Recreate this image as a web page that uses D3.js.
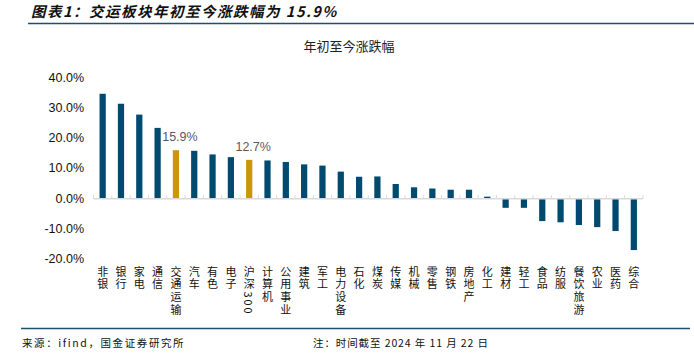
<!DOCTYPE html>
<html>
<head>
<meta charset="utf-8">
<script src="https://cdn.jsdelivr.net/npm/d3@7"></script>
<style>
  html, body { margin: 0; padding: 0; background: #fff; }
  svg { display: block; }
  .cjk { font-family: "Noto Sans CJK SC", sans-serif; }
</style>
</head>
<body>
<div id="chart"></div>
<script>
var categories = ['非银', '银行', '家电', '通信', '交通运输', '汽车', '有色', '电子', '沪深300', '计算机',
  '公用事业', '建筑', '军工', '电力设备', '石化', '煤炭', '传媒', '机械', '零售', '钢铁',
  '房地产', '化工', '建材', '轻工', '食品', '纺服', '餐饮旅游', '农业', '医药', '综合'];
var values = [34.6, 31.3, 27.7, 23.3, 15.9, 15.7, 14.5, 13.6, 12.7, 12.5,
  12.0, 11.2, 10.8, 8.8, 7.1, 7.2, 4.7, 3.6, 3.2, 2.8,
  2.8, 0.5, -3.2, -3.2, -7.6, -8.0, -8.9, -9.6, -10.9, -17.2];
var highlighted = ['交通运输', '沪深300'];
var yTicks = [40, 30, 20, 10, 0, -10, -20];

var W = 694, H = 353;
var navy = '#004a6f', gold = '#c9980a';

var svg = d3.select('#chart').append('svg')
  .attr('width', W).attr('height', H);

// header
svg.append('text')
  .attr('class', 'cjk')
  .attr('x', 31).attr('y', 17)
  .style('font-size', '14.5px').style('font-weight', 'bold').style('font-style', 'italic')
  .style('letter-spacing', '1.5px')
  .style('fill', '#111')
  .text('图表1：交运板块年初至今涨跌幅为 15.9%');
svg.append('line')
  .attr('x1', 28).attr('x2', W).attr('y1', 23.5).attr('y2', 23.5)
  .style('stroke', '#1f4e6e').style('stroke-width', 1.5);

svg.append('text')
  .attr('class', 'cjk')
  .attr('x', 349).attr('y', 51)
  .attr('text-anchor', 'middle')
  .style('font-size', '13px').style('fill', '#222')
  .text('年初至今涨跌幅');

var x = d3.scaleBand()
  .domain(categories)
  .range([93.5, 643])
  .paddingInner(0.66)
  .paddingOuter(0.33);

var y = d3.scaleLinear()
  .domain([-20, 40])
  .range([258.5, 77.5]);

// y axis labels
svg.append('g')
  .selectAll('text')
  .data(yTicks)
  .enter()
  .append('text')
  .attr('x', 84)
  .attr('y', function(d) { return y(d); })
  .attr('dy', '0.35em')
  .attr('text-anchor', 'end')
  .style('font-family', '"Liberation Sans", Arial, sans-serif')
  .style('font-size', '12.5px')
  .style('fill', '#111')
  .text(function(d) { return d.toFixed(1) + '%'; });

// bars
svg.append('g')
  .selectAll('rect')
  .data(categories)
  .enter()
  .append('rect')
  .attr('x', function(d) { return x(d); })
  .attr('width', x.bandwidth())
  .attr('y', function(d, i) { return y(Math.max(0, values[i])); })
  .attr('height', function(d, i) { return Math.abs(y(values[i]) - y(0)); })
  .style('fill', function(d) { return highlighted.indexOf(d) >= 0 ? gold : navy; });

// zero axis with category ticks
var step = x.step();
var axisG = svg.append('g');
axisG.append('line')
  .attr('x1', x.range()[0]).attr('x2', x.range()[1])
  .attr('y1', y(0) + 0.5).attr('y2', y(0) + 0.5)
  .style('stroke', '#d9d9d9').style('stroke-width', 1.5);
axisG.selectAll('.tick')
  .data(d3.range(categories.length + 1))
  .enter()
  .append('line')
  .attr('x1', function(i) { return x.range()[0] + i * step; })
  .attr('x2', function(i) { return x.range()[0] + i * step; })
  .attr('y1', y(0) - 3).attr('y2', y(0) + 0.5)
  .style('stroke', '#d9d9d9').style('stroke-width', 1);

// data labels for highlighted bars
svg.append('g')
  .selectAll('text')
  .data(highlighted)
  .enter()
  .append('text')
  .attr('x', function(d) { return x(d) + x.bandwidth() / 2 + 4; })
  .attr('y', function(d) { return y(values[categories.indexOf(d)]) - 9; })
  .attr('text-anchor', 'middle')
  .style('font-family', '"Liberation Sans", Arial, sans-serif')
  .style('font-size', '12.5px')
  .style('fill', '#595959')
  .text(function(d) { return values[categories.indexOf(d)].toFixed(1) + '%'; });

// vertical category labels (vertical writing mode, digits run sideways)
svg.append('g')
  .selectAll('text')
  .data(categories)
  .enter()
  .append('text')
  .attr('class', 'cjk')
  .attr('x', function(d) { return x(d) + x.bandwidth() / 2; })
  .attr('y', 266)
  .style('writing-mode', 'vertical-rl')
  .style('font-size', '11px')
  .style('letter-spacing', '1.8px')
  .style('fill', '#111')
  .text(function(d) { return d; });

// footer
svg.append('line')
  .attr('x1', 21).attr('x2', 690).attr('y1', 328.5).attr('y2', 328.5)
  .style('stroke', '#1f4e6e').style('stroke-width', 1.5);
svg.append('text')
  .attr('class', 'cjk')
  .attr('x', 22).attr('y', 347)
  .style('font-size', '10.5px').style('fill', '#111')
  .style('letter-spacing', '1.6px')
  .text('来源：ifind，国金证券研究所');
svg.append('text')
  .attr('class', 'cjk')
  .attr('x', 313).attr('y', 347)
  .style('font-size', '10.5px').style('fill', '#111')
  .style('letter-spacing', '0.9px')
  .text('注：时间截至 2024 年 11 月 22 日');
</script>
</body>
</html>
